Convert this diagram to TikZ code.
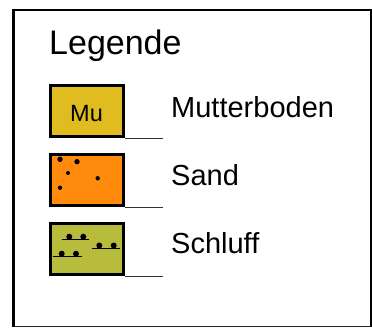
\documentclass[tikz,border=0pt]{standalone}
\usepackage{fontspec}
\setmainfont{Liberation Sans}
\definecolor{mucol}{HTML}{E0BC20}
\definecolor{sandcol}{HTML}{FF8A0C}
\definecolor{schluffcol}{HTML}{B8BC3C}
\begin{document}
\begin{tikzpicture}[x=1pt,y=-1pt,
  legbox/.style={draw=black, line width=3pt, minimum width=73pt, minimum height=51pt, inner sep=0pt},
  leglabel/.style={anchor=base west, inner sep=0pt, font=\fontsize{29}{32}\selectfont},
  tick/.style={draw=black!80, line width=1pt},
  grain/.style={fill=black},
  silt/.style={draw=black, line width=1pt}]
\useasboundingbox (0,0) rectangle (372,329);
% frame
\draw[line width=2pt] (13.5,10.5) -- (371,10.5) -- (371,326.5);
\draw[line width=1.5pt, black!85] (13.5,326.5) -- (371,326.5);
\draw[line width=3pt] (13.5,9.5) -- (13.5,327.2);
% title
\node[anchor=base west, inner sep=0pt, font=\fontsize{34}{38}\selectfont] (title) at (49,55) {Legende};
% boxes
\node[legbox, fill=mucol] (mu) at (87,111) {};
\node[legbox, fill=sandcol] (sand) at (87,180) {};
\node[legbox, fill=schluffcol] (schluff) at (87,249) {};
\node[anchor=base, inner sep=0pt, font=\fontsize{23.5}{26}\selectfont] (mutext) at (86.5,121.7) {Mu};
% ticks
\coordinate (mue) at (163,138);
\coordinate (sande) at (163,207);
\coordinate (schluffe) at (163,276);
\draw[tick] (mu.south east) -- (mue);
\draw[tick] (sand.south east) -- (sande);
\draw[tick] (schluff.south east) -- (schluffe);
% labels
\node[leglabel] (l1) at (171,117) {Mutterboden};
\node[leglabel] (l2) at (171,185) {Sand};
\node[leglabel] (l3) at (171,253) {Schluff};
% sand grains
\fill[grain] (60,159.3) circle (2.7);
\fill[grain] (77,161.7) circle (2.7);
\fill[grain] (68,173) circle (2);
\fill[grain] (97.7,178.3) circle (2.2);
\fill[grain] (60,187.7) circle (2.2);
% silt symbols
\draw[silt] (61.7,239.7) -- (89.3,239.7);
\fill[grain] (69.3,236.7) circle (3);
\fill[grain] (83.3,236.7) circle (3);
\draw[silt] (91.7,248.5) -- (120,248.5);
\fill[grain] (99.3,245.5) circle (3);
\fill[grain] (113.7,245.5) circle (3);
\draw[silt] (53.3,256.7) -- (82.3,256.7);
\fill[grain] (61.7,253.7) circle (3);
\fill[grain] (76,253.7) circle (3);
\end{tikzpicture}
\end{document}
